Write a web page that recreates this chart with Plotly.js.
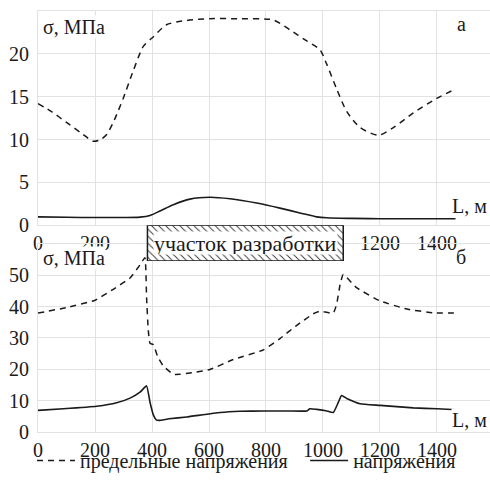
<!DOCTYPE html>
<html>
<head>
<meta charset="utf-8">
<script src="https://cdn.plot.ly/plotly-3.0.1.min.js"></script>
<style>html,body{margin:0;padding:0;background:#fff;}#chart{width:490px;height:480px;}</style>
</head>
<body>
<div id="chart"></div>
<script>
// ---- data ----
const xTicks = [0, 200, 400, 600, 800, 1000, 1200, 1400];
const xTickTextTop = ['0', '200', '', '', '', '', '1200', '1400'];  // 400–1000 are hidden by the zone box

// panel "а"
const topLimL = [0, 50, 100, 150, 194, 220, 241, 264, 282, 299, 334, 370, 405, 451, 522, 603, 700, 826, 884, 943, 989, 1013, 1048, 1083, 1130, 1195, 1247, 1317, 1399, 1465];
const topLimV = [14.2, 13.2, 12.0, 10.8, 9.8, 10.0, 10.6, 12.0, 13.4, 14.8, 18.0, 20.9, 22.0, 23.4, 23.9, 24.1, 24.1, 23.95, 22.8, 21.5, 20.5, 18.8, 15.9, 13.3, 11.4, 10.5, 11.4, 13.1, 14.8, 15.9];
const topStrL = [0, 100, 200, 300, 358, 393, 430, 475, 533, 603, 674, 767, 849, 919, 978, 1013, 1100, 1200, 1465];
const topStrV = [0.98, 0.93, 0.9, 0.9, 0.95, 1.14, 1.7, 2.4, 3.05, 3.27, 3.09, 2.59, 2.0, 1.44, 0.98, 0.87, 0.8, 0.76, 0.75];

// panel "б"
const botLimL = [0, 101, 200, 264, 323, 358, 375, 381, 387, 393, 405, 420, 440, 475, 498, 540, 603, 685, 791, 849, 908, 966, 989, 1036, 1048, 1060, 1071, 1118, 1200, 1294, 1387, 1469];
const botLimV = [37.9, 39.7, 42, 45.5, 49.1, 53.3, 55.6, 42.9, 32.4, 28.3, 27.8, 24, 21, 18.4, 18.4, 18.9, 19.9, 23.1, 26.2, 29.8, 34, 37.7, 38.5, 37.9, 40.8, 47, 50.2, 46, 41.8, 39.2, 38, 37.9];
const botStrL = [0, 89, 206, 276, 323, 358, 381, 393, 405, 416, 425, 460, 522, 639, 709, 791, 880, 943, 954, 978, 1010, 1036, 1054, 1065, 1085, 1130, 1200, 1317, 1400, 1469];
const botStrV = [6.9, 7.4, 8.2, 9.3, 10.8, 12.7, 14.7, 9.5, 5.4, 3.8, 3.7, 4.2, 4.8, 6.2, 6.6, 6.7, 6.7, 6.7, 7.4, 7.2, 6.8, 6.2, 9.5, 11.6, 10.6, 9.0, 8.5, 7.7, 7.4, 7.1];

// mining zone extent along L
const zoneL = [384, 1071];

const seriesNames = ['предельные напряжения', 'напряжения'];

// ---- chart ----
const GRID = '#e2e2e2';
const INK = '#1a1a1a';
const XMAX = 1586;

const traces = [
  {x: topLimL, y: topLimV, xaxis: 'x', yaxis: 'y', mode: 'lines', name: seriesNames[0], showlegend: true, legend: 'legend',
   line: {color: INK, width: 1.5, dash: '6px,5px', shape: 'spline', smoothing: 0.7}},
  {x: topStrL, y: topStrV, xaxis: 'x', yaxis: 'y', mode: 'lines', name: seriesNames[1], showlegend: true, legend: 'legend2',
   line: {color: INK, width: 1.6, shape: 'spline', smoothing: 0.8}},
  {x: botLimL, y: botLimV, xaxis: 'x2', yaxis: 'y2', mode: 'lines', showlegend: false,
   line: {color: INK, width: 1.5, dash: '6px,5px', shape: 'spline', smoothing: 0.4}},
  {x: botStrL, y: botStrV, xaxis: 'x2', yaxis: 'y2', mode: 'lines', showlegend: false,
   line: {color: INK, width: 1.6, shape: 'spline', smoothing: 0.4}},
  {x: [zoneL[0], zoneL[1], zoneL[1], zoneL[0], zoneL[0]], y: [0, 0, 1, 1, 0], xaxis: 'x3', yaxis: 'y3',
   mode: 'lines', fill: 'toself', showlegend: false, hoverinfo: 'skip',
   fillcolor: '#ffffff',
   fillpattern: {shape: '\\', size: 5, solidity: 0.18, fgcolor: '#333', bgcolor: '#ffffff', fillmode: 'replace'},
   line: {color: INK, width: 1.5}}
];

const topBottom = 0.4911;
const axBase = {
  showgrid: true, gridcolor: GRID, gridwidth: 1, zeroline: false,
  showline: true, linecolor: GRID, linewidth: 1, mirror: true,
  ticks: '', tickfont: {family: 'Liberation Serif', size: 20}, fixedrange: true
};

const layout = {
  width: 490, height: 480,
  margin: {l: 38, r: 0, t: 11, b: 40},
  paper_bgcolor: '#fff', plot_bgcolor: 'rgba(0,0,0,0)',
  font: {family: 'Liberation Serif', size: 20, color: '#1a1a1a'},
  showlegend: true,
  legend: {orientation: 'h', xanchor: 'left', x: -0.0133, y: -0.022, yanchor: 'top',
           font: {family: 'Liberation Serif', size: 20}, bgcolor: 'rgba(0,0,0,0)', itemwidth: 38},
  legend2: {orientation: 'h', xanchor: 'left', x: 0.591, y: -0.022, yanchor: 'top',
           font: {family: 'Liberation Serif', size: 20}, bgcolor: 'rgba(0,0,0,0)', itemwidth: 38},
  xaxis: Object.assign({}, axBase, {domain: [0, 1], range: [0, XMAX], tickvals: xTicks, ticktext: xTickTextTop, anchor: 'y', automargin: false}),
  yaxis: Object.assign({}, axBase, {domain: [topBottom, 1], range: [0, 25], tickvals: [0, 5, 10, 15, 20], anchor: 'x', ticklabelstandoff: 4, automargin: false}),
  xaxis2: Object.assign({}, axBase, {domain: [0, 1], range: [0, XMAX], tickvals: xTicks, anchor: 'y2', automargin: false}),
  yaxis2: Object.assign({}, axBase, {domain: [0, 0.447], range: [0, 60], tickvals: [0, 10, 20, 30, 40, 50], anchor: 'x2', ticklabelstandoff: 4, automargin: false}),
  xaxis3: {domain: [0, 1], range: [0, XMAX], visible: false, anchor: 'y3', fixedrange: true},
  yaxis3: {domain: [0.4063, topBottom], range: [0, 1], visible: false, anchor: 'x3', fixedrange: true},
  annotations: [
    {xref: 'paper', yref: 'paper', x: 0.009, y: 0.963, xanchor: 'left', yanchor: 'middle', text: 'σ, МПа', showarrow: false, bgcolor: '#fff', borderpad: 0, font: {family: 'Liberation Serif', size: 20}},
    {xref: 'paper', yref: 'paper', x: 0.936, y: 0.970, xanchor: 'center', yanchor: 'middle', text: 'а', showarrow: false, font: {family: 'Liberation Serif', size: 20}},
    {xref: 'paper', yref: 'paper', x: 0.996, y: 0.536, xanchor: 'right', yanchor: 'middle', text: 'L, м', showarrow: false, bgcolor: '#fff', borderpad: 0, font: {family: 'Liberation Serif', size: 20}},
    {xref: 'paper', yref: 'paper', x: 0.009, y: 0.413, xanchor: 'left', yanchor: 'middle', text: 'σ, МПа', showarrow: false, bgcolor: '#fff', borderpad: 0, font: {family: 'Liberation Serif', size: 20}},
    {xref: 'paper', yref: 'paper', x: 0.936, y: 0.415, xanchor: 'center', yanchor: 'middle', text: 'б', showarrow: false, font: {family: 'Liberation Serif', size: 20}},
    {xref: 'paper', yref: 'paper', x: 0.996, y: 0.028, xanchor: 'right', yanchor: 'middle', text: 'L, м', showarrow: false, bgcolor: '#fff', borderpad: 0, font: {family: 'Liberation Serif', size: 20}},
    {xref: 'x3', yref: 'y3', x: (zoneL[0] + zoneL[1]) / 2, y: 0.5, xanchor: 'center', yanchor: 'middle', text: 'участок разработки', showarrow: false, bgcolor: '#fff', borderpad: 0, height: 22, valign: 'middle', font: {family: 'Liberation Serif', size: 22}}
  ]
};

Plotly.newPlot('chart', traces, layout, {staticPlot: true, displayModeBar: false});
</script>
</body>
</html>
